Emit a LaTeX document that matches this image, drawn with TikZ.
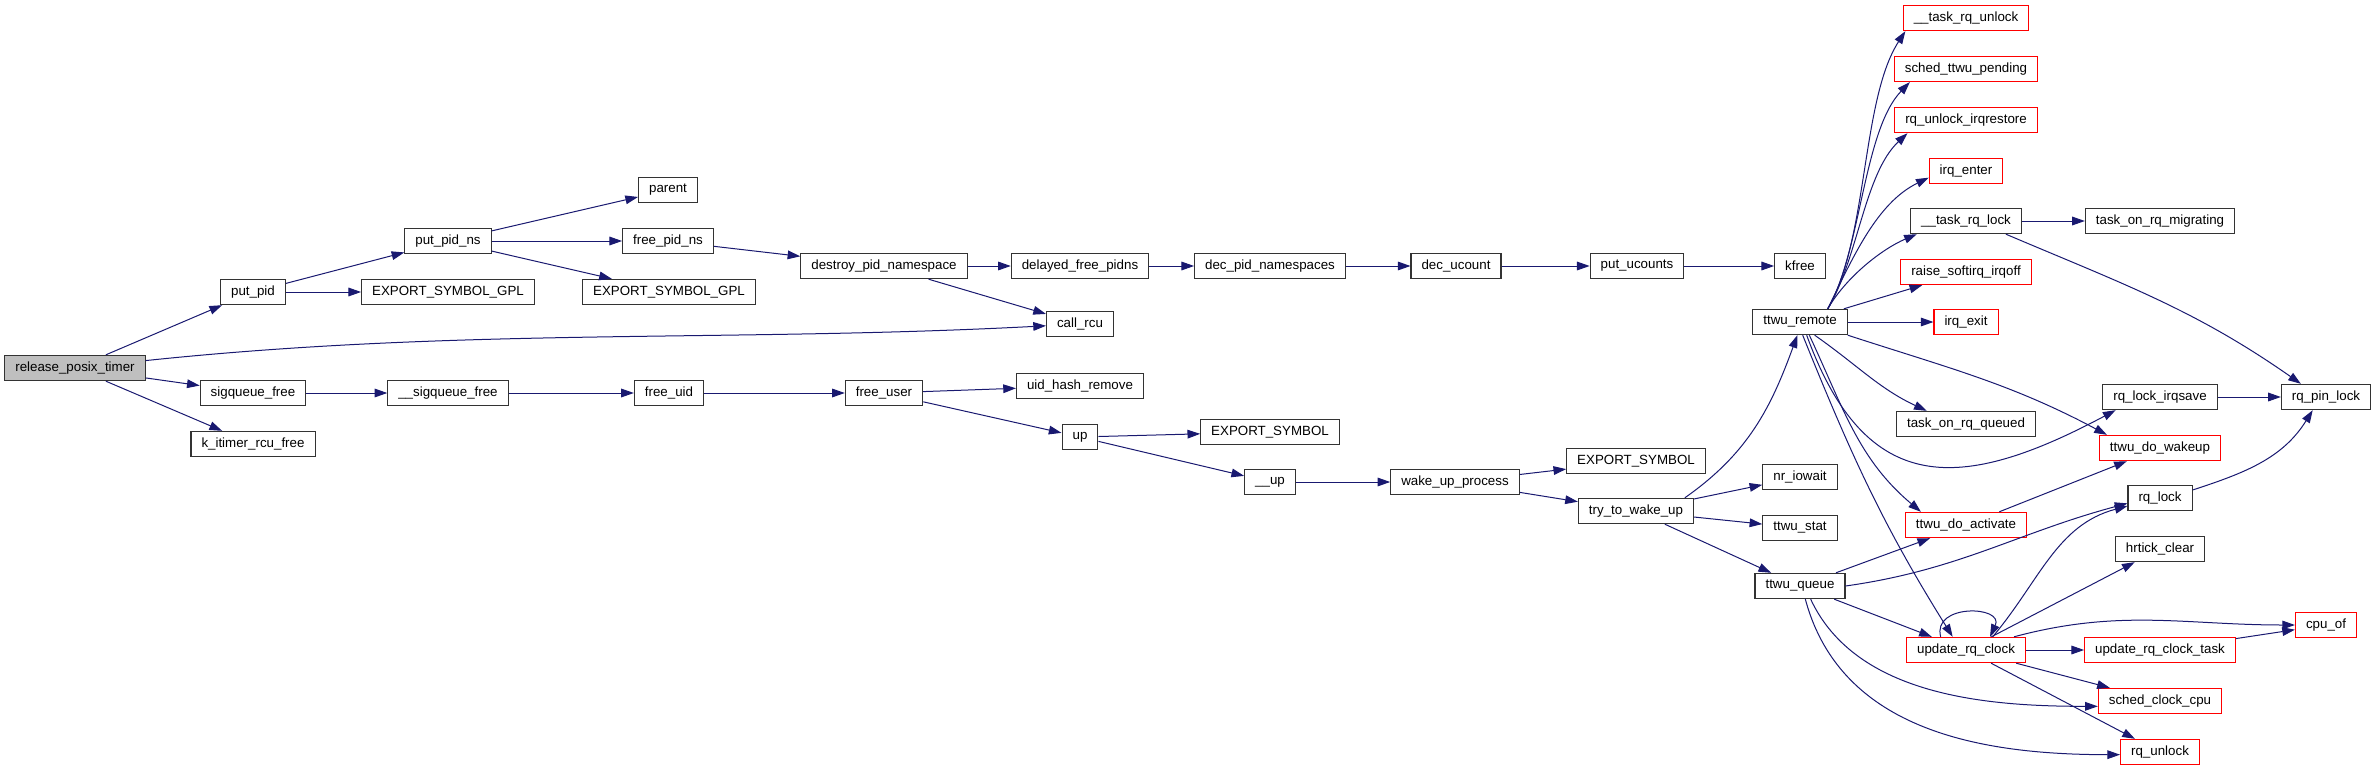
\documentclass[tikz,border=0pt]{standalone}
\usepackage{fontspec}
\setmainfont{Liberation Sans}
\usetikzlibrary{arrows.meta}
\usepackage{xcolor}
\definecolor{callblue}{RGB}{25,25,112}

\begin{document}
\begin{tikzpicture}[x=0.75pt, y=0.75pt,
  fn/.style={draw=black!80, fill=white, line width=0.8pt, inner xsep=7.9pt,
    inner ysep=0pt, minimum height=19pt, font=\fontsize{10}{12}\selectfont},
  rootfn/.style={fn, fill=black!25},
  truncfn/.style={fn, draw=red},
  calls/.style={-{Triangle[length=9.5pt, width=6.5pt]}, callblue, line width=0.75pt}
]
  \useasboundingbox (0,0) rectangle (2376,-771);

  \node[rootfn] (rpt) at (75,-368) {release\_posix\_timer};
  \node[fn] (putpid) at (253,-292) {put\_pid};
  \node[fn] (sigfree) at (253,-393) {sigqueue\_free};
  \node[fn] (kitimer) at (253,-444) {k\_itimer\_rcu\_free};
  \node[fn] (esgpla) at (448,-292) {EXPORT\_SYMBOL\_GPL};
  \node[fn] (putpidns) at (448,-241) {put\_pid\_ns};
  \node[fn] (sigqfree) at (448,-393) {\_\_sigqueue\_free};
  \node[fn] (parent) at (668,-190) {parent};
  \node[fn] (freepidns) at (668,-241) {free\_pid\_ns};
  \node[fn] (esgplb) at (669,-292) {EXPORT\_SYMBOL\_GPL};
  \node[fn] (freeuid) at (669,-393) {free\_uid};
  \node[fn] (destroy) at (884,-266) {destroy\_pid\_namespace};
  \node[fn] (freeuser) at (884,-393) {free\_user};
  \node[fn] (delayed) at (1080,-266) {delayed\_free\_pidns};
  \node[fn] (callrcu) at (1080,-324) {call\_rcu};
  \node[fn] (uidhash) at (1080,-386) {uid\_hash\_remove};
  \node[fn] (upfn) at (1080,-437) {up};
  \node[fn] (decpidns) at (1270,-266) {dec\_pid\_namespaces};
  \node[fn] (esyma) at (1270,-432) {EXPORT\_SYMBOL};
  \node[fn] (underup) at (1270,-482) {\_\_up};
  \node[fn] (decucount) at (1456,-266) {dec\_ucount};
  \node[fn] (wakeproc) at (1455,-482) {wake\_up\_process};
  \node[fn] (putucounts) at (1637,-266) {put\_ucounts};
  \node[fn] (esymb) at (1636,-461) {EXPORT\_SYMBOL};
  \node[fn] (trywake) at (1636,-511) {try\_to\_wake\_up};
  \node[fn] (kfree) at (1800,-266) {kfree};
  \node[fn] (ttremote) at (1800,-322) {ttwu\_remote};
  \node[fn] (nriowait) at (1800,-477) {nr\_iowait};
  \node[fn] (ttstat) at (1800,-528) {ttwu\_stat};
  \node[fn] (ttqueue) at (1800,-586) {ttwu\_queue};
  \node[truncfn] (trqunlock) at (1966,-18) {\_\_task\_rq\_unlock};
  \node[truncfn] (schedpending) at (1966,-69) {sched\_ttwu\_pending};
  \node[truncfn] (unlockirq) at (1966,-120) {rq\_unlock\_irqrestore};
  \node[truncfn] (irqenter) at (1966,-171) {irq\_enter};
  \node[fn] (trqlock) at (1966,-221) {\_\_task\_rq\_lock};
  \node[truncfn] (raisesoft) at (1966,-272) {raise\_softirq\_irqoff};
  \node[truncfn] (irqexit) at (1966,-322) {irq\_exit};
  \node[fn] (onrqqueued) at (1966,-424) {task\_on\_rq\_queued};
  \node[truncfn] (doactivate) at (1966,-525) {ttwu\_do\_activate};
  \node[truncfn] (uclock) at (1966,-650) {update\_rq\_clock};
  \node[fn] (migrating) at (2160,-221) {task\_on\_rq\_migrating};
  \node[fn] (lockirqsave) at (2160,-397) {rq\_lock\_irqsave};
  \node[truncfn] (dowakeup) at (2160,-448) {ttwu\_do\_wakeup};
  \node[fn] (rqlock) at (2160,-498) {rq\_lock};
  \node[fn] (hrtick) at (2160,-549) {hrtick\_clear};
  \node[truncfn] (uclocktask) at (2160,-650) {update\_rq\_clock\_task};
  \node[truncfn] (schedcpu) at (2160,-701) {sched\_clock\_cpu};
  \node[truncfn] (rqunlock) at (2160,-752) {rq\_unlock};
  \node[fn] (pinlock) at (2326,-397) {rq\_pin\_lock};
  \node[truncfn] (cpuof) at (2326,-625) {cpu\_of};

  \draw[calls] (rpt) -- (putpid);
  \draw[calls] (rpt) to[out=6, in=183, looseness=0.9] (callrcu);
  \draw[calls] (rpt) -- (sigfree);
  \draw[calls] (rpt) -- (kitimer);
  \draw[calls] (putpid) -- (putpidns);
  \draw[calls] (putpid) -- (esgpla);
  \draw[calls] (putpidns) -- (parent);
  \draw[calls] (putpidns) -- (freepidns);
  \draw[calls] (putpidns) -- (esgplb);
  \draw[calls] (freepidns) -- (destroy);
  \draw[calls] (destroy) -- (delayed);
  \draw[calls] (destroy) -- (callrcu);
  \draw[calls] (delayed) -- (decpidns);
  \draw[calls] (decpidns) -- (decucount);
  \draw[calls] (decucount) -- (putucounts);
  \draw[calls] (putucounts) -- (kfree);
  \draw[calls] (sigfree) -- (sigqfree);
  \draw[calls] (sigqfree) -- (freeuid);
  \draw[calls] (freeuid) -- (freeuser);
  \draw[calls] (freeuser) -- (uidhash);
  \draw[calls] (freeuser) -- (upfn);
  \draw[calls] (upfn) -- (esyma);
  \draw[calls] (upfn) -- (underup);
  \draw[calls] (underup) -- (wakeproc);
  \draw[calls] (wakeproc) -- (esymb);
  \draw[calls] (wakeproc) -- (trywake);
  \draw[calls] ([xshift=-7pt]trywake.north east) to[out=35, in=-110] ([xshift=-2pt]ttremote.south);
  \draw[calls] (trywake) -- (nriowait);
  \draw[calls] (trywake) -- (ttstat);
  \draw[calls] (trywake) -- (ttqueue);
  % ttwu_remote, upward fan
  \draw[calls] ([xshift=-15pt]ttremote.north east) to[out=60, in=237, looseness=0.72] ([xshift=2pt]trqunlock.south west);
  \draw[calls] ([xshift=-15pt]ttremote.north east) to[out=60, in=226, looseness=0.71] ([xshift=12pt]schedpending.south west);
  \draw[calls] ([xshift=-15pt]ttremote.north east) to[out=59, in=223, looseness=0.78] ([xshift=10pt]unlockirq.south west);
  \draw[calls] ([xshift=-15pt]ttremote.north east) to[out=64, in=206, looseness=0.89] ([yshift=-5pt]irqenter.west);
  \draw[calls] ([xshift=-15pt]ttremote.north east) to[out=60, in=203, looseness=0.82] ([xshift=5pt]trqlock.south west);
  \draw[calls] (ttremote) -- (raisesoft);
  \draw[calls] (ttremote) -- (irqexit);
  % ttwu_remote, downward
  \draw[calls] ([xshift=11pt]ttremote.south) to[out=-35, in=155] ([xshift=23pt]onrqqueued.north west);
  \draw[calls] ([xshift=5pt]ttremote.south) to[out=-70, in=208, looseness=1.4] ([xshift=10pt]lockirqsave.south west);
  \draw[calls] (ttremote.south east) to[out=-18, in=152] ([xshift=6pt]dowakeup.north west);
  \draw[calls] ([xshift=7pt]ttremote.south) to[out=-65, in=140] ([xshift=12pt]doactivate.north west);
  \draw[calls] ([xshift=2pt]ttremote.south) to[out=-68, in=122] ([xshift=-10pt]uclock.north);
  \draw[calls] (trqlock) -- (migrating);
  \draw[calls] ([xshift=-12pt]trqlock.south east) to[out=-23, in=145] ([xshift=15pt]pinlock.north west);
  \draw[calls] (lockirqsave) -- (pinlock);
  \draw[calls] ([yshift=6pt]rqlock.east) to[out=18, in=238] ([xshift=-10pt]pinlock.south);
  \draw[calls] (doactivate) -- (dowakeup);
  % ttwu_queue
  \draw[calls] (ttqueue) -- (doactivate);
  \draw[calls] (ttqueue.east) to[out=8, in=195] ([yshift=-4pt]rqlock.west);
  \draw[calls] (ttqueue) -- (uclock);
  \draw[calls] ([xshift=8pt]ttqueue.south) to[out=-65, in=180, looseness=0.9] ([yshift=-4pt]schedcpu.west);
  \draw[calls] ([xshift=4pt]ttqueue.south) to[out=-75, in=180] ([yshift=-2pt]rqunlock.west);
  % update_rq_clock
  \draw[calls] ([xshift=-19pt]uclock.north) to[out=105, in=65, looseness=1.8] ([xshift=18pt]uclock.north);
  \draw[calls] ([xshift=20pt]uclock.north) to[out=50, in=195] ([yshift=-6pt]rqlock.west);
  \draw[calls] (uclock) -- (hrtick);
  \draw[calls] ([xshift=36pt]uclock.north) to[out=15, in=180] (cpuof.west);
  \draw[calls] (uclock) -- (uclocktask);
  \draw[calls] (uclock) -- (schedcpu);
  \draw[calls] (uclock) -- (rqunlock);
  \draw[calls] (uclocktask) -- (cpuof);
\end{tikzpicture}
\end{document}
